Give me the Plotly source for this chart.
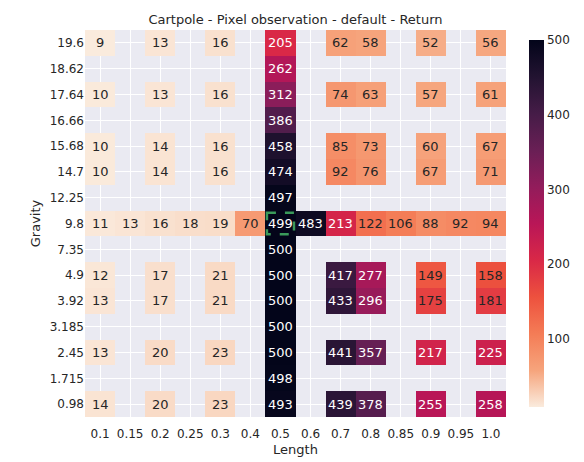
import plotly.graph_objects as go
import numpy as np

lengths = ["0.1","0.15","0.2","0.25","0.3","0.4","0.5","0.6","0.7","0.8","0.85","0.9","0.95","1.0"]
gravity = ["19.6","18.62","17.64","16.66","15.68","14.7","12.25","9.8","7.35","4.9","3.92","3.185","2.45","1.715","0.98"]
N = None
returns = [
 [9,N,13,N,16,N,205,N,62,58,N,52,N,56],
 [N,N,N,N,N,N,262,N,N,N,N,N,N,N],
 [10,N,13,N,16,N,312,N,74,63,N,57,N,61],
 [N,N,N,N,N,N,386,N,N,N,N,N,N,N],
 [10,N,14,N,16,N,458,N,85,73,N,60,N,67],
 [10,N,14,N,16,N,474,N,92,76,N,67,N,71],
 [N,N,N,N,N,N,497,N,N,N,N,N,N,N],
 [11,13,16,18,19,70,499,483,213,122,106,88,92,94],
 [N,N,N,N,N,N,500,N,N,N,N,N,N,N],
 [12,N,17,N,21,N,500,N,417,277,N,149,N,158],
 [13,N,17,N,21,N,500,N,433,296,N,175,N,181],
 [N,N,N,N,N,N,500,N,N,N,N,N,N,N],
 [13,N,20,N,23,N,500,N,441,357,N,217,N,225],
 [N,N,N,N,N,N,498,N,N,N,N,N,N,N],
 [14,N,20,N,23,N,493,N,439,378,N,255,N,258],
]
default_len, default_grav = "0.5", "9.8"

rocket = ["#03051A","#221331","#451C47","#691F55","#921C5B","#B91657","#D92847","#ED513E","#F47C56","#F6A47C","#FAEBDD"]
cs = [[i/10, c] for i, c in enumerate(rocket[::-1])]

z = np.array([[np.nan if v is None else v for v in r] for r in returns], float)
xi = list(range(len(lengths))); yi = list(range(len(gravity)))
fig = go.Figure(go.Heatmap(z=z, x=xi, y=yi, colorscale=cs, zmin=np.nanmin(z), zmax=500,
    colorbar=dict(thickness=15, len=1, y=0.5, x=1.03, outlinewidth=0, tickvals=[100,200,300,400,500],
                  tickfont=dict(size=12, color="#262626"), ticks=""), hoverongaps=False))
ann = []
for i in yi:
    for j in xi:
        v = returns[i][j]
        if v is not None:
            ann.append(dict(x=j, y=i, text=str(v), showarrow=False,
                            font=dict(size=13, color="white" if v > 200 else "#262626")))
dx, dy = lengths.index(default_len), gravity.index(default_grav)
fig.add_shape(type="rect", x0=dx-0.45, x1=dx+0.45, y0=dy-0.42, y1=dy+0.42,
              line=dict(color="#3a9a5a", width=2.5, dash="dash"))
fig.update_layout(width=584, height=462, annotations=ann, paper_bgcolor="white", plot_bgcolor="#EAEAF2",
    margin=dict(l=77, r=86, t=22, b=53), font=dict(family="DejaVu Sans", color="#262626"),
    title=dict(text="Cartpole - Pixel observation - default - Return", x=0.5, xref="paper", y=0.985, font=dict(size=13)),
    xaxis=dict(tickvals=xi, ticktext=lengths, title=dict(text="Length", font=dict(size=13), standoff=4), gridcolor="white",
               showline=False, zeroline=False, range=[-0.5, len(lengths)-0.5], tickfont=dict(size=12), ticks="",
               ticklabelstandoff=8),
    yaxis=dict(tickvals=yi, ticktext=gravity, title=dict(text="Gravity", font=dict(size=13), standoff=6), gridcolor="white",
               autorange=False, range=[len(gravity)-0.5, -0.5], zeroline=False, tickfont=dict(size=12), ticks=""))
fig.write_html("out.html")
